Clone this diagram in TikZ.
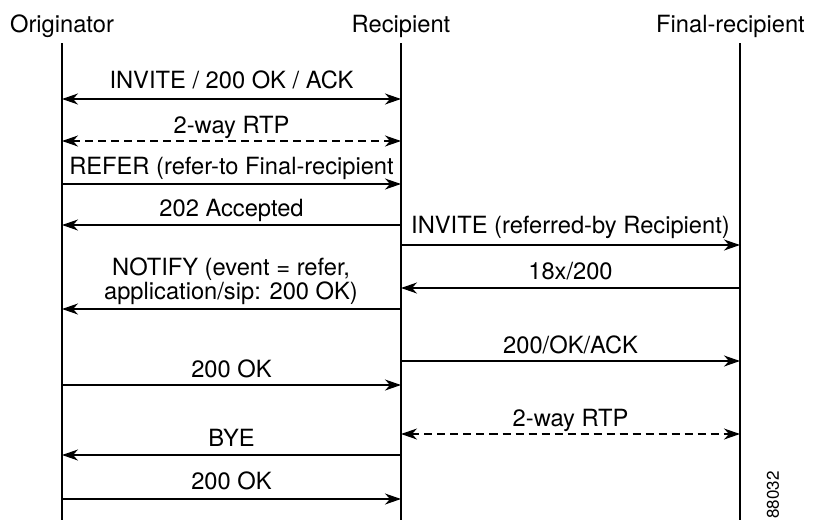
\documentclass[tikz,border=0pt]{standalone}
\usepackage{fontspec}
\setmainfont{TeX Gyre Heros}
\usetikzlibrary{arrows.meta}

\tikzset{
  msg/.style={->},
  duplex/.style={<->},
  rtp/.style={<->, dash pattern=on 4pt off 2.5pt}
}

\begin{document}
\begin{tikzpicture}[x=0.5pt, y=-0.5pt, line width=0.6pt,
    font=\fontsize{11.85}{12}\selectfont,
    >={Stealth[length=8pt, width=5.5pt, inset=2.5pt]}]
        \useasboundingbox (0,0) rectangle (817,520);
        \pgfmathsetmacro{\orig}{62}
        \pgfmathsetmacro{\recip}{401}
        \pgfmathsetmacro{\final}{740}

        \node[anchor=base] (O) at (\orig, 32) {Originator};
        \node[anchor=base] (R) at (\recip, 32) {Recipient};
        \node[anchor=base east] (F) at (812, 32) {Final-recipient};

        \foreach \x/\n in {\orig/o, \recip/r, \final/f} {
                \coordinate (l\n) at (\x, 43);
                \coordinate (e\n) at (\x, 520);
                \draw (l\n) -- (e\n);
            }

        \foreach \y/\ly/\a/\b/\s/\t [count=\i] in {
                99/88/o/r/duplex/{INVITE / 200 OK / ACK},
                141/133/o/r/rtp/{2-way RTP},
                184/174/o/r/msg/{REFER (refer-to Final-recipient},
                225/216/r/o/msg/{202 Accepted},
                245/233/r/f/msg/{INVITE (referred-by Recipient)},
                288/279/f/r/msg/{18x/200},
                361/353/r/f/msg/{200/OK/ACK},
                385/377/o/r/msg/{200 OK},
                434/426/r/f/rtp/{2-way RTP},
                455/446/r/o/msg/{BYE},
                499/489/o/r/msg/{200 OK}} {
                \draw[\s] (l\a |- 0,\y) -- (l\b |- 0,\y)
                node[midway, anchor=base, yshift={(\y-\ly)*0.5pt}] (lbl\i) {\t};
            }

        \draw[msg] (lr |- 0,309) -- (lo |- 0,309);
        \node[align=center, inner sep=0pt] (notify) at (231, 281)
        {NOTIFY (event = refer,\\application/sip: 200 OK)};

        \node[rotate=90, font=\fontsize{8.5}{10}\selectfont] (fig) at (773, 495) {88032};
    \end{tikzpicture}
\end{document}
